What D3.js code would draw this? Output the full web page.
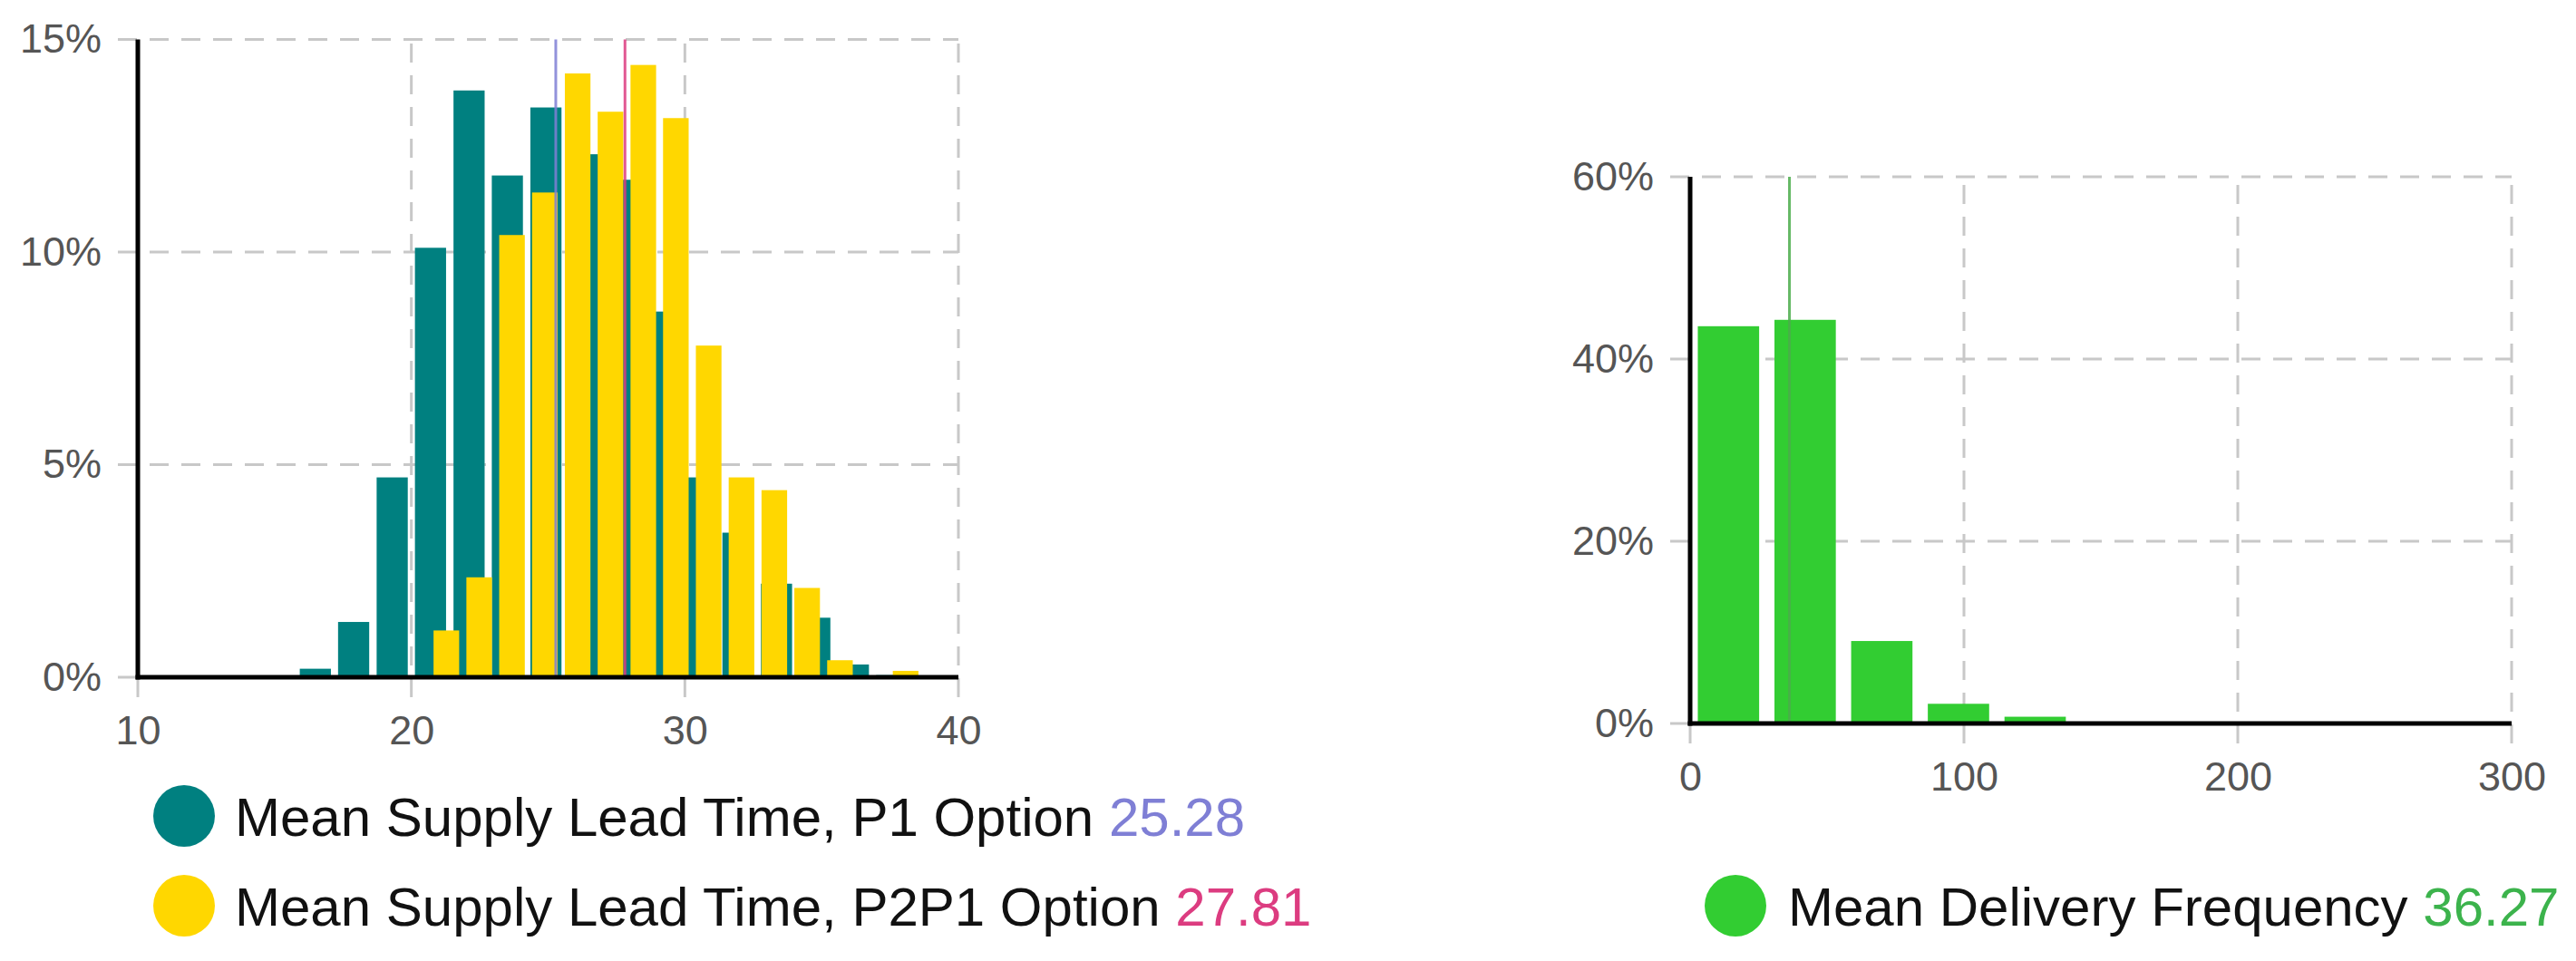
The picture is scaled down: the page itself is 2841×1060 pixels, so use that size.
<!DOCTYPE html>
<html><head><meta charset="utf-8">
<script src="https://cdn.jsdelivr.net/npm/d3@7"></script>
<style>
body{margin:0;background:#fff;}
svg{display:block;font-family:"Liberation Sans",Arial,sans-serif;}
</style></head><body>
<svg id="c" width="2841" height="1060"></svg>
<script>
// ---- Data: Mean Supply Lead Time histograms (% of runs) ----
const p1Centers   = [16.49,17.89,19.30,20.70,22.11,23.51,24.92,26.32,27.73,29.13,30.54,31.94,33.35,34.75,36.16,37.56];
const p1Values    = [0.2,1.3,4.7,10.1,13.8,11.8,13.4,12.3,11.7,8.6,4.7,3.4,2.2,1.4,0.3,0.05];
const p2p1Centers = [21.28,22.48,23.68,24.88,26.08,27.28,28.48,29.67,30.87,32.07,33.27,34.47,35.67,36.87,38.07];
const p2p1Values  = [1.1,2.35,10.4,11.4,14.2,13.3,14.4,13.15,7.8,4.7,4.4,2.1,0.4,0.03,0.15];
const p1BinWidth = 1.405;
const p2p1BinWidth = 1.2;
const p1Mean = 25.28;
const p2p1Mean = 27.81;
const leadXTicks = [10,20,30,40];
const leadYTicks = [0,5,10,15];

// ---- Data: Mean Delivery Frequency histogram ----
const freqCenters = [14,42,70,98,126];
const freqValues  = [43.6,44.3,9.05,2.16,0.74];
const freqBinWidth = 28;
const freqMean = 36.27;
const freqXTicks = [0,100,200,300];
const freqYTicks = [0,20,40,60];

const legendLeft = [
  {label:"Mean Supply Lead Time, P1 Option ", value:"25.28", key:"p1"},
  {label:"Mean Supply Lead Time, P2P1 Option ", value:"27.81", key:"p2p1"}
];
const legendRight = [
  {label:"Mean Delivery Frequency ", value:"36.27", key:"freq"}
];

// ---- Styles ----
const COLORS = {p1:"#008080", p2p1:"#FFD700", freq:"#32CD32",
  p1Mean:"#7f7fd5", p2p1Mean:"#dc3c80", freqMean:"#4cad4c"};
const VALUE_COLORS = {p1:"#7f7fd5", p2p1:"#dc3c80", freq:"#3cb34c"};

const svg = d3.select("#c");

function panel(cfg){
  const g = svg.append("g");
  const x = d3.scaleLinear().domain(cfg.xDomain).range([cfg.left, cfg.right]);
  const y = d3.scaleLinear().domain(cfg.yDomain).range([cfg.bottom, cfg.top]);

  // grid
  g.append("g").selectAll("line").data(cfg.yTicks).join("line")
    .attr("x1", cfg.left-22).attr("x2", cfg.right)
    .attr("y1", d=>y(d)).attr("y2", d=>y(d))
    .attr("stroke","#c8c8c8").attr("stroke-width",3).attr("stroke-dasharray","21,14");
  g.append("g").selectAll("line").data(cfg.xTicks).join("line")
    .attr("x1", d=>x(d)).attr("x2", d=>x(d))
    .attr("y1", cfg.bottom+22).attr("y2", cfg.top)
    .attr("stroke","#c8c8c8").attr("stroke-width",3).attr("stroke-dasharray","21,14");

  // bars
  cfg.series.forEach(s=>{
    const data = s.centers.map((c,i)=>({c, v:s.values[i]}));
    g.append("g").selectAll("rect").data(data).join("rect")
      .attr("x", d=>x(d.c - s.binWidth*s.frac/2))
      .attr("width", d=>x(d.c + s.binWidth*s.frac/2) - x(d.c - s.binWidth*s.frac/2))
      .attr("y", d=>y(d.v))
      .attr("height", d=>y(0)-y(d.v))
      .attr("fill", s.color);
  });

  // mean lines
  cfg.means.forEach(m=>{
    g.append("line")
      .attr("x1", x(m.value)).attr("x2", x(m.value))
      .attr("y1", y(cfg.yDomain[1])).attr("y2", y(0))
      .attr("stroke", m.color).attr("stroke-width",3).attr("opacity",0.85);
  });

  // axes labels
  const ax = g.append("g").attr("transform",`translate(0,${cfg.bottom})`)
    .call(d3.axisBottom(x).tickValues(cfg.xTicks).tickSize(0).tickPadding(42));
  const ay = g.append("g").attr("transform",`translate(${cfg.left},0)`)
    .call(d3.axisLeft(y).tickValues(cfg.yTicks).tickSize(0).tickPadding(40).tickFormat(d=>d+"%"));
  [ax,ay].forEach(a=>{
    a.select(".domain").remove();
    a.selectAll("text").attr("font-size",45).attr("fill","#555")
      .attr("font-family","'Liberation Sans',Arial,sans-serif");
  });

  // axis lines
  g.append("line").attr("x1",cfg.left).attr("x2",cfg.left)
    .attr("y1",cfg.top).attr("y2",cfg.bottom+2.5)
    .attr("stroke","#000").attr("stroke-width",5);
  g.append("line").attr("x1",cfg.left-2.5).attr("x2",cfg.right)
    .attr("y1",cfg.bottom).attr("y2",cfg.bottom)
    .attr("stroke","#000").attr("stroke-width",5);
}

panel({
  left:152, right:1057, top:43.5, bottom:747,
  xDomain:[10,40], yDomain:[0,15], xTicks:leadXTicks, yTicks:leadYTicks,
  series:[
    {centers:p1Centers, values:p1Values, binWidth:p1BinWidth, frac:0.81, color:COLORS.p1},
    {centers:p2p1Centers, values:p2p1Values, binWidth:p2p1BinWidth, frac:0.78, color:COLORS.p2p1}
  ],
  means:[{value:p1Mean, color:COLORS.p1Mean},{value:p2p1Mean, color:COLORS.p2p1Mean}]
});

panel({
  left:1864, right:2770, top:195, bottom:798,
  xDomain:[0,300], yDomain:[0,60], xTicks:freqXTicks, yTicks:freqYTicks,
  series:[{centers:freqCenters, values:freqValues, binWidth:freqBinWidth, frac:0.8, color:COLORS.freq}],
  means:[{value:freqMean, color:COLORS.freqMean}]
});

function legend(items, cx, tx, y0, dy){
  const g = svg.append("g");
  items.forEach((it,i)=>{
    const cy = y0 + i*dy;
    g.append("circle").attr("cx",cx).attr("cy",cy).attr("r",34).attr("fill",COLORS[it.key]);
    const t = g.append("text").attr("x",tx).attr("y",cy+22)
      .attr("font-size",60).attr("fill","#111");
    t.append("tspan").text(it.label);
    t.append("tspan").attr("fill",VALUE_COLORS[it.key]).text(it.value);
  });
}
legend(legendLeft, 203, 259, 900, 99);
legend(legendRight, 1914, 1972, 999, 99);
</script>
</body></html>
